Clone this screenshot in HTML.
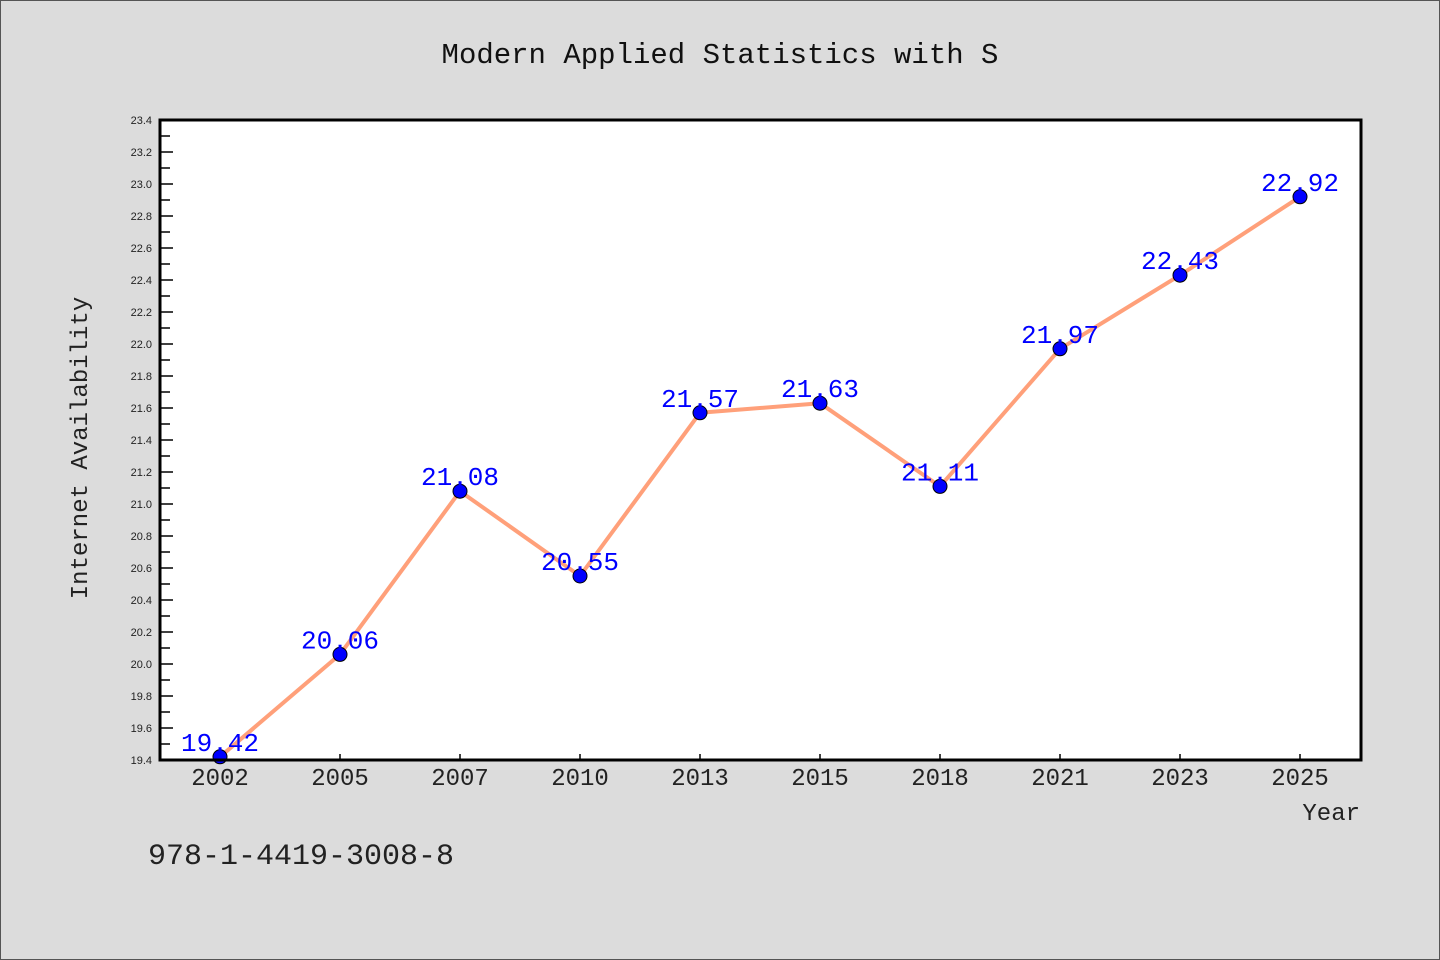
<!DOCTYPE html>
<html><head><meta charset="utf-8"><style>
html,body{margin:0;padding:0;background:#dcdcdc;}
svg{display:block;font-family:"Liberation Mono","WenQuanYi Zen Hei",monospace;}
</style></head><body>
<svg id="chart" width="1440" height="960" xmlns="http://www.w3.org/2000/svg">
<rect x="0.5" y="0.5" width="1439" height="959" fill="#dcdcdc" stroke="#555"/>
<text x="720" y="63" text-anchor="middle" font-size="29" fill="#111">Modern Applied Statistics with S</text>
<rect x="160" y="120" width="1201" height="640" fill="#fff"/>
<g id="ticks"></g>
<path id="line" fill="none" stroke="#ffa07a" stroke-width="4" stroke-linejoin="round"/>
<g id="points"></g>
<g id="labels"></g>
<rect x="160" y="120" width="1201" height="640" fill="none" stroke="#000" stroke-width="3"/>
<text x="87" y="448" text-anchor="middle" font-size="24" fill="#222" transform="rotate(-90 87 448)">Internet Availability</text>
<text x="1360" y="820" text-anchor="end" font-size="24" fill="#222">Year</text>
<text x="148" y="864" font-size="30" fill="#222">978-1-4419-3008-8</text>
</svg>
<script>
const categories = ["2002","2005","2007","2010","2013","2015","2018","2021","2023","2025"];
const values = [19.42,20.06,21.08,20.55,21.57,21.63,21.11,21.97,22.43,22.92];
const yTicks = ["19.4","19.6","19.8","20.0","20.2","20.4","20.6","20.8","21.0","21.2","21.4","21.6","21.8","22.0","22.2","22.4","22.6","22.8","23.0","23.2","23.4"];
const NS="http://www.w3.org/2000/svg";
const yMin=19.4,yMax=23.4,plotTop=120,plotBot=760,plotLeft=160;
function yS(v){return plotBot-(v-yMin)/(yMax-yMin)*(plotBot-plotTop);}
function xS(i){return 220+i*120;}
function mk(t,a,p){const e=document.createElementNS(NS,t);for(const k in a)e.setAttribute(k,a[k]);p.appendChild(e);return e;}
const tg=document.getElementById('ticks');
yTicks.forEach((t,i)=>{
  const y=yS(parseFloat(t));
  const l=mk('line',{x1:plotLeft,x2:plotLeft+13,y1:y,y2:y,stroke:'#000','stroke-width':1.5},tg);
  
  
  const tx=mk('text',{x:152,y:y+4,'text-anchor':'end','font-size':11,fill:'#222','font-family':'Liberation Sans, sans-serif'},tg);
  tx.textContent=t;
  
  
  if(i<yTicks.length-1){
    const ym=yS(parseFloat(t)+0.1);
    const m=mk('line',{x1:plotLeft,x2:plotLeft+10,y1:ym,y2:ym,stroke:'#000','stroke-width':1.5},tg);
    
    
  }
});
categories.forEach((c,i)=>{
  const x=xS(i);
  const l=mk('line',{x1:x,x2:x,y1:plotBot,y2:plotBot-6,stroke:'#000','stroke-width':1.5},tg);
  
  
  const tx=mk('text',{x:x,y:785,'text-anchor':'middle','font-size':24,fill:'#222'},tg);
  tx.textContent=c;
  
  
});
document.getElementById('line').setAttribute('d',values.map((v,i)=>(i?'L':'M')+xS(i)+' '+yS(v)).join(' '));
const pg=document.getElementById('points'),lg=document.getElementById('labels');
values.forEach((v,i)=>{
  const c=mk('circle',{cx:xS(i),cy:yS(v),r:7,fill:'#0000ff',stroke:'#000','stroke-width':1},pg);
  
  
  const t=mk('text',{x:xS(i),y:yS(v)-6,'text-anchor':'middle','font-size':26,fill:'#0000ff'},lg);
  t.textContent=v.toFixed(2);
  
  
});
</script>
</body></html>
